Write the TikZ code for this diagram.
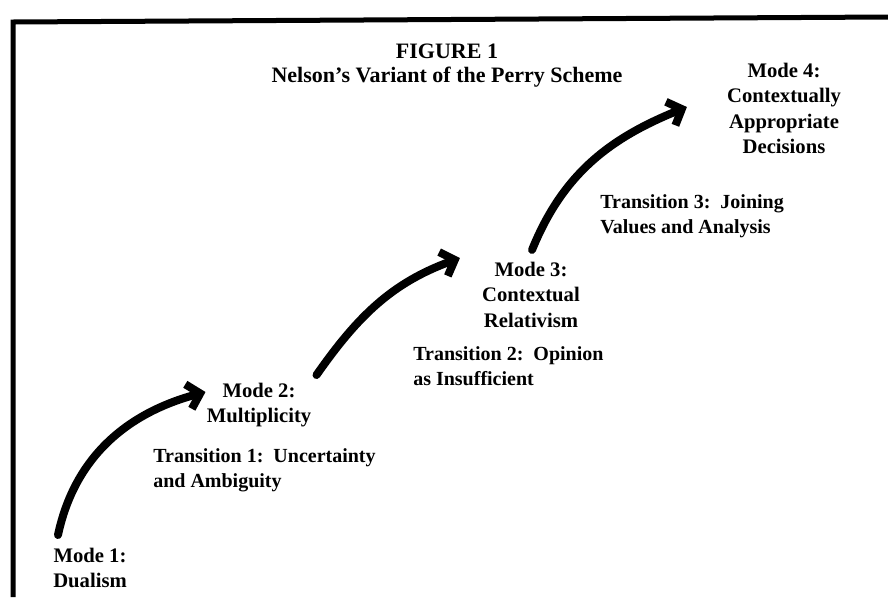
\documentclass[tikz,border=0pt]{standalone}
\usepackage{fontspec}
\setmainfont{Liberation Serif}
\usepackage{tikz}
\usetikzlibrary{arrows.meta}

\begin{document}
\begin{tikzpicture}[
  x=0.75pt, y=0.75pt,
  modelabel/.style={
    align=center, anchor=north, inner sep=0pt,
    font=\fontsize{15.5}{19}\selectfont\bfseries
  },
  translabel/.style={
    align=left, anchor=north west, inner sep=0pt,
    font=\fontsize{15}{19}\selectfont\bfseries
  },
  stagearrow/.style={
    line width=6pt, line cap=round,
    -{Straight Barb[length=9pt, width=19pt]}
  }
]
  \useasboundingbox (0,0) rectangle (888,-597);
  % frame
  \draw[line width=3.75pt] (13,-597) -- (13,-22) -- (888,-17);

  \node[align=center, anchor=north, inner sep=0pt,
        font=\fontsize{16.5}{18}\selectfont\bfseries] (title) at (447,-44)
    {FIGURE 1\\Nelson's Variant of the Perry Scheme};

  \node[modelabel, anchor=north west] (m1) at (53,-548) {Mode 1:\\Dualism};
  \node[modelabel] (m2) at (259,-383) {Mode 2:\\Multiplicity};
  \node[modelabel] (m3) at (531,-262) {Mode 3:\\Contextual\\Relativism};
  \node[modelabel] (m4) at (784,-63) {Mode 4:\\Contextually\\Appropriate\\Decisions};

  \node[translabel] (t1) at (153,-448) {Transition 1:\ \ Uncertainty\\and Ambiguity};
  \node[translabel] (t2) at (413,-346) {Transition 2:\ \ Opinion\\as Insufficient};
  \node[translabel] (t3) at (600,-194) {Transition 3:\ \ Joining\\Values and Analysis};

  \draw[stagearrow] ([shift={(5,13)}]m1.north west)
    to[out=78, in=195] ([shift={(-1,-9)}]m2.north west);
  \draw[stagearrow] ([shift={(5,8)}]m2.north east)
    to[out=55, in=200] ([shift={(-22,4)}]m3.north west);
  \draw[stagearrow] ([shift={(1,12)}]m3.north)
    to[out=68, in=202] ([shift={(-40,-44)}]m4.north west);
\end{tikzpicture}
\end{document}
